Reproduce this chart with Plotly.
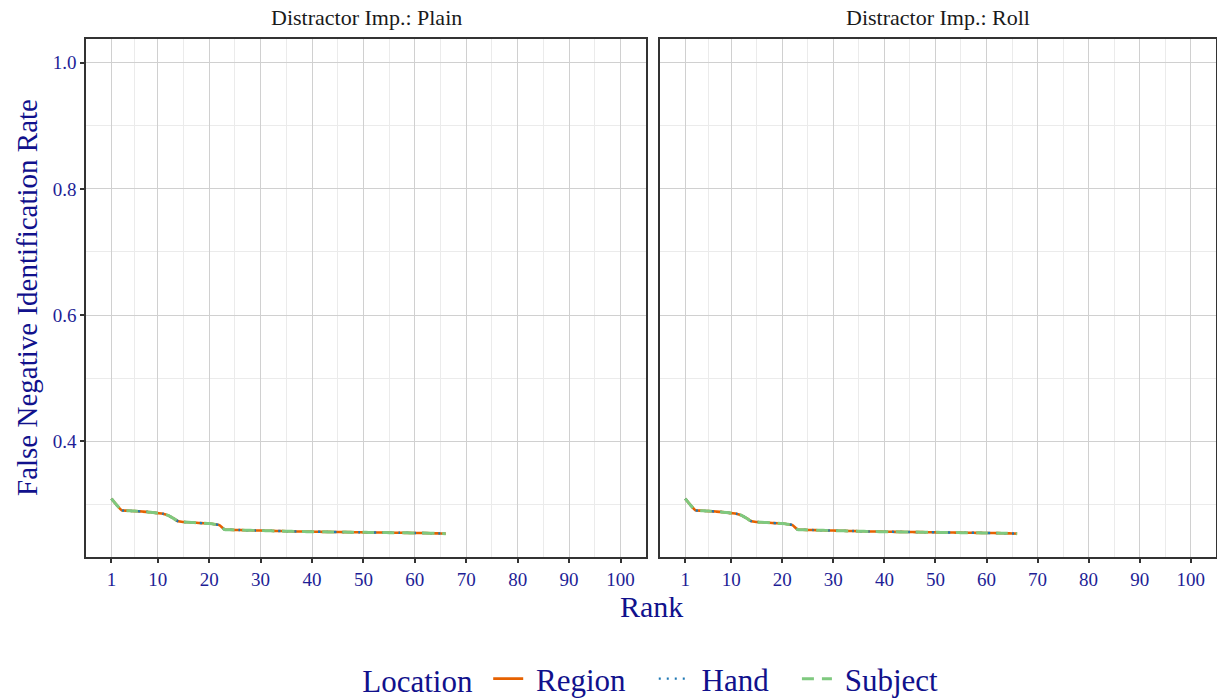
import plotly.graph_objects as go

ranks = list(range(1, 67))
fnir_plain = [0.309, 0.299, 0.2905, 0.2900, 0.2895, 0.2890, 0.2885, 0.2880, 0.2870, 0.2860,
              0.2850, 0.2825, 0.2780, 0.2730, 0.2720, 0.2715, 0.2710, 0.2705, 0.2700, 0.2695,
              0.2685, 0.2670, 0.2600, 0.2597, 0.2594, 0.2592, 0.2590, 0.2588, 0.2586, 0.2584,
              0.2582, 0.2580, 0.2578, 0.2576, 0.2574, 0.2572, 0.2570, 0.2569, 0.2567, 0.2566,
              0.2565, 0.2564, 0.2563, 0.2562, 0.2561, 0.2560, 0.2559, 0.2558, 0.2557, 0.2556,
              0.2555, 0.2554, 0.2553, 0.2552, 0.2551, 0.2550, 0.2549, 0.2548, 0.2547, 0.2546,
              0.2545, 0.2544, 0.2542, 0.2540, 0.2538, 0.2535]
fnir_roll = [0.309, 0.299, 0.2905, 0.2900, 0.2895, 0.2890, 0.2885, 0.2880, 0.2870, 0.2860,
             0.2850, 0.2825, 0.2780, 0.2730, 0.2720, 0.2715, 0.2710, 0.2705, 0.2700, 0.2695,
             0.2685, 0.2670, 0.2600, 0.2597, 0.2594, 0.2592, 0.2590, 0.2588, 0.2586, 0.2584,
             0.2582, 0.2580, 0.2578, 0.2576, 0.2574, 0.2572, 0.2570, 0.2569, 0.2567, 0.2566,
             0.2565, 0.2564, 0.2563, 0.2562, 0.2561, 0.2560, 0.2559, 0.2558, 0.2557, 0.2556,
             0.2555, 0.2554, 0.2553, 0.2552, 0.2551, 0.2550, 0.2549, 0.2548, 0.2547, 0.2546,
             0.2545, 0.2544, 0.2542, 0.2540, 0.2538, 0.2535]

panels = ["Distractor Imp.: Plain", "Distractor Imp.: Roll"]
locations = ["Region", "Hand", "Subject"]
colors = ["#E66100", "#1F78B4", "#7FC97F"]
dashes = ["solid", "2px,6px", "12px,8px"]
widths = [2.6, 2.4, 3.0]

x_ticks = [1, 10, 20, 30, 40, 50, 60, 70, 80, 90, 100]
x_minor = [5.5, 15, 25, 35, 45, 55, 65, 75, 85, 95]
y_ticks = [0.4, 0.6, 0.8, 1.0]
y_minor = [0.3, 0.5, 0.7, 0.9]

FONT = "Liberation Serif"
TICKC = "#1E1E96"
TITLEC = "#11118C"

fig = go.Figure()
data_by_panel = [fnir_plain, fnir_roll]
for p in range(2):
    for i, loc in enumerate(locations):
        fig.add_trace(go.Scatter(
            x=ranks, y=data_by_panel[p], mode="lines", name=" " + loc + "   ",
            line=dict(color=colors[i], dash=dashes[i], width=widths[i], shape="spline", smoothing=0.5),
            xaxis="x" if p == 0 else "x2", yaxis="y" if p == 0 else "y2",
            showlegend=(p == 0), legendgroup=loc,
        ))

W, H = 1217, 700
top, bottom = 39, 557
left_dom = [86 / W, 646 / W]
right_dom = [660 / W, 1216 / W]

def xaxis(dom, anchor):
    return dict(domain=dom, anchor=anchor, range=[-3.95, 104.95],
                tickvals=x_ticks, ticktext=[str(v) for v in x_ticks],
                showgrid=True, gridcolor="#D0D0D0", gridwidth=1.4,
                minor=dict(tickvals=x_minor, showgrid=True, gridcolor="#EBEBEB", gridwidth=0.8, ticks=""),
                showline=True, mirror=True, linecolor="#333333", linewidth=1.5,
                ticks="outside", ticklen=4, tickwidth=1.5, tickcolor="#333333",
                tickfont=dict(family=FONT, size=19, color=TICKC), zeroline=False, automargin=False)

def yaxis(anchor, show_labels):
    return dict(domain=[1 - bottom / H, 1 - top / H], anchor=anchor, range=[0.2165, 1.0375],
                tickvals=y_ticks, ticktext=["0.4", "0.6", "0.8", "1.0"],
                showticklabels=show_labels,
                showgrid=True, gridcolor="#D0D0D0", gridwidth=1.4,
                minor=dict(tickvals=y_minor, showgrid=True, gridcolor="#EBEBEB", gridwidth=0.8, ticks=""),
                showline=True, mirror=True, linecolor="#333333", linewidth=1.5,
                ticks="outside" if show_labels else "", ticklen=4, tickwidth=1.5, tickcolor="#333333",
                tickfont=dict(family=FONT, size=19, color=TICKC), zeroline=False, automargin=False)

fig.update_layout(
    width=W, height=H,
    paper_bgcolor="white", plot_bgcolor="white",
    margin=dict(l=0, r=0, t=0, b=0, autoexpand=False),
    xaxis=xaxis(left_dom, "y"),
    xaxis2=xaxis(right_dom, "y2"),
    yaxis=yaxis("x", True),
    yaxis2=yaxis("x2", False),
    showlegend=True,
    legend=dict(orientation="h", x=0.545, xanchor="center", y=1 - 679 / H, yanchor="middle",
                font=dict(family=FONT, size=31, color=TITLEC),
                title=dict(text="Location ", font=dict(family=FONT, size=31, color=TITLEC)),
                itemwidth=30, tracegroupgap=0),
    annotations=[
        dict(text=panels[0], x=(left_dom[0] + left_dom[1]) / 2, y=1 - 18 / H, xref="paper", yref="paper",
             showarrow=False, font=dict(family=FONT, size=22, color="#1A1A1A"), xanchor="center", yanchor="middle"),
        dict(text=panels[1], x=(right_dom[0] + right_dom[1]) / 2, y=1 - 18 / H, xref="paper", yref="paper",
             showarrow=False, font=dict(family=FONT, size=22, color="#1A1A1A"), xanchor="center", yanchor="middle"),
        dict(text="Rank", x=(86 + 1216) / 2 / W, y=1 - 606 / H, xref="paper", yref="paper",
             showarrow=False, font=dict(family=FONT, size=30, color=TITLEC), xanchor="center", yanchor="middle"),
        dict(text="False Negative Identification Rate", x=27 / W, y=1 - 298 / H, xref="paper", yref="paper",
             showarrow=False, textangle=-90, font=dict(family=FONT, size=29, color=TITLEC),
             xanchor="center", yanchor="middle"),
    ],
)

fig.write_html("out.html", config=dict(displayModeBar=False, responsive=False),
               post_script="document.body.style.margin='0px';document.body.style.overflow='hidden';")
